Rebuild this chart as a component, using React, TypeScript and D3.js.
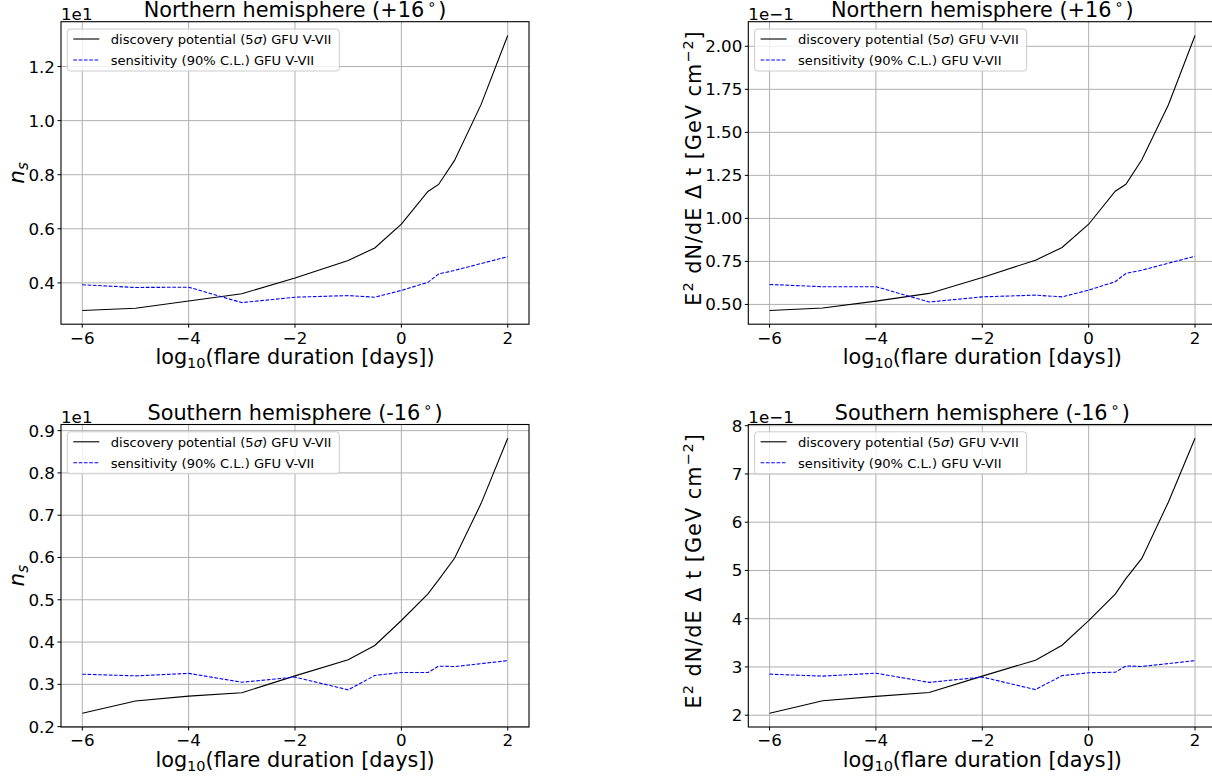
import React from 'react';
import * as d3 from 'd3';

// log10(flare duration [days]) sample points
const xDisc = [-6, -5, -4, -3, -2, -1, -0.5, 0, 0.5, 0.7, 1, 1.5, 2];
const xSens = [-6, -5, -4, -3, -2, -1, -0.5, 0, 0.5, 0.7, 1, 2];

// Northern hemisphere, n_s (x 1e1)
const nsNorthDisc = [0.298, 0.306, 0.333, 0.36, 0.418, 0.483, 0.529, 0.617, 0.738, 0.764, 0.853, 1.06, 1.315];
const nsNorthSens = [0.393, 0.383, 0.384, 0.327, 0.347, 0.353, 0.347, 0.372, 0.402, 0.433, 0.446, 0.497];

// Northern hemisphere, flux (x 1e-1)
const fluxNorthDisc = [0.465, 0.479, 0.519, 0.564, 0.657, 0.757, 0.831, 0.966, 1.158, 1.198, 1.341, 1.66, 2.063];
const fluxNorthSens = [0.616, 0.603, 0.603, 0.514, 0.544, 0.554, 0.544, 0.583, 0.632, 0.68, 0.699, 0.78];

// Southern hemisphere, n_s (x 1e1)
const nsSouthDisc = [0.2316, 0.2606, 0.272, 0.28, 0.32, 0.358, 0.392, 0.451, 0.514, 0.547, 0.598, 0.728, 0.882];
const nsSouthSens = [0.324, 0.32, 0.326, 0.305, 0.317, 0.287, 0.321, 0.328, 0.328, 0.343, 0.342, 0.356];

// Southern hemisphere, flux (x 1e-1)
const fluxSouthDisc = [2.04, 2.3, 2.39, 2.47, 2.81, 3.14, 3.45, 3.96, 4.51, 4.83, 5.25, 6.42, 7.74];
const fluxSouthSens = [2.85, 2.81, 2.87, 2.68, 2.79, 2.53, 2.82, 2.88, 2.89, 3.02, 3.01, 3.13];

const xTicks = [-6, -4, -2, 0, 2];
const yTicksNsNorth = [0.4, 0.6, 0.8, 1.0, 1.2];
const yTicksFluxNorth = [0.5, 0.75, 1.0, 1.25, 1.5, 1.75, 2.0];
const yTicksNsSouth = [0.2, 0.3, 0.4, 0.5, 0.6, 0.7, 0.8, 0.9];
const yTicksFluxSouth = [2, 3, 4, 5, 6, 7, 8];

const legendLabels = ['discovery potential (5', 'σ', ') GFU V-VII', 'sensitivity (90% C.L.) GFU V-VII'];
const titleNorth = 'Northern hemisphere (+16';
const titleSouth = 'Southern hemisphere (-16';
const xLabelParts = ['log', '10', '(flare duration [days])'];

const FONT = 'DejaVu Sans';
const GRID = '#b0b0b0';

const fmtNum = (v: number, dec: number) => {
  const s = v.toFixed(dec);
  return s.replace('-', '\u2212');
};

type PanelProps = {
  left: number;
  top: number;
  width: number;
  height: number;
  disc: number[];
  sens: number[];
  yTicks: number[];
  yDec: number;
  title: string;
  offset: string;
  kind: 'ns' | 'flux';
};

function Panel({ left, top, width, height, disc, sens, yTicks, yDec, title, offset, kind }: PanelProps) {
  const xAll = xDisc.concat(xSens);
  const [xmn, xmx] = d3.extent(xAll) as [number, number];
  const xpad = (xmx - xmn) * 0.05;
  const x = d3.scaleLinear().domain([xmn - xpad, xmx + xpad]).range([left, left + width]);
  const yAll = disc.concat(sens);
  const [ymn, ymx] = d3.extent(yAll) as [number, number];
  const ypad = (ymx - ymn) * 0.05;
  const y = d3.scaleLinear().domain([ymn - ypad, ymx + ypad]).range([top + height, top]);
  const line = d3.line<[number, number]>().x((d) => x(d[0])).y((d) => y(d[1]));
  const discPts = xDisc.map((v, i) => [v, disc[i]] as [number, number]);
  const sensPts = xSens.map((v, i) => [v, sens[i]] as [number, number]);
  const bottom = top + height;
  const right = left + width;
  const lx = left + 6.3;
  const ly = top + 7.3;
  const cy = top + height / 2;

  return (
    <g fontFamily={FONT}>
      {/* grid */}
      {xTicks.map((t) => (
        <line key={'gx' + t} x1={x(t)} x2={x(t)} y1={top} y2={bottom} stroke={GRID} strokeWidth={1} />
      ))}
      {yTicks.map((t) => (
        <line key={'gy' + t} x1={left} x2={right} y1={y(t)} y2={y(t)} stroke={GRID} strokeWidth={1} />
      ))}
      {/* data */}
      <path d={line(discPts) || ''} fill="none" stroke="#000" strokeWidth={1.1} />
      <path d={line(sensPts) || ''} fill="none" stroke="#0000ff" strokeWidth={1.1} strokeDasharray="3.7 1.6" />
      {/* spines */}
      <rect x={left} y={top} width={width} height={height} fill="none" stroke="#000" strokeWidth={1.1} />
      {/* x ticks */}
      {xTicks.map((t) => (
        <g key={'xt' + t}>
          <line x1={x(t)} x2={x(t)} y1={bottom} y2={bottom + 3.5} stroke="#000" strokeWidth={1} />
          <text x={x(t)} y={bottom + 19.3} fontSize={16.7} textAnchor="middle">{fmtNum(t, 0)}</text>
        </g>
      ))}
      {/* y ticks */}
      {yTicks.map((t) => (
        <g key={'yt' + t}>
          <line x1={left - 3.5} x2={left} y1={y(t)} y2={y(t)} stroke="#000" strokeWidth={1} />
          <text x={left - 6} y={y(t)} dy="0.36em" fontSize={16.7} textAnchor="end">{fmtNum(t, yDec)}</text>
        </g>
      ))}
      {/* offset text */}
      <text x={left} y={top - 2} fontSize={16.7}>{offset}</text>
      {/* title */}
      <text x={left + width / 2} y={top - 4.3} fontSize={20.8} textAnchor="middle">
        {title}
        <tspan fontSize={14.5} dx={3} dy={-8}>∘</tspan>
        <tspan dx={2} dy={8}>)</tspan>
      </text>
      {/* x label */}
      <text x={left + width / 2} y={bottom + 40} fontSize={20.8} textAnchor="middle">
        {xLabelParts[0]}
        <tspan fontSize={14.5} dy={4}>{xLabelParts[1]}</tspan>
        <tspan dy={-4}>{xLabelParts[2]}</tspan>
      </text>
      {/* y label */}
      {kind === 'ns' ? (
        <text transform={`translate(${left - 37},${cy}) rotate(-90)`} fontSize={21.5} textAnchor="middle" fontStyle="italic">
          n<tspan fontSize={15} dy={4}>s</tspan>
        </text>
      ) : (
        <text transform={`translate(${left - 47.5},${cy - 5}) rotate(-90)`} fontSize={20.8} textAnchor="middle" letterSpacing={1}>
          E<tspan fontSize={14.5} dy={-8}>2</tspan>
          <tspan dy={8}>{' dN/dE Δ t [GeV cm'}</tspan>
          <tspan fontSize={14.5} dy={-8}>−2</tspan>
          <tspan dy={8}>]</tspan>
        </text>
      )}
      {/* legend */}
      <rect x={lx} y={ly} width={272} height={42} rx={3} fill="#fff" fillOpacity={0.8} stroke="#cccccc" strokeWidth={1} />
      <line x1={lx + 6} x2={lx + 32} y1={ly + 10} y2={ly + 10} stroke="#000" strokeWidth={1.1} />
      <line x1={lx + 6} x2={lx + 32} y1={ly + 31} y2={ly + 31} stroke="#0000ff" strokeWidth={1.1} strokeDasharray="3.7 1.6" />
      <text x={lx + 43.4} y={ly + 10} dy="0.36em" fontSize={13.1}>
        {legendLabels[0]}
        <tspan fontStyle="italic">{legendLabels[1]}</tspan>
        {legendLabels[2]}
      </text>
      <text x={lx + 43.4} y={ly + 31} dy="0.36em" fontSize={13.1}>{legendLabels[3]}</text>
    </g>
  );
}

export default function App() {
  const W = 468;
  const H = 302.5;
  const L1 = 61;
  const L2 = 748.3;
  const T1 = 21.7;
  const T2 = 424.5;
  return (
    <svg width={1212} height={780} style={{ position: 'absolute', left: 0, top: 0, display: 'block', background: '#fff' }}>
      <rect x={0} y={0} width={1212} height={780} fill="#fff" />
      <Panel left={L1} top={T1} width={W} height={H} disc={nsNorthDisc} sens={nsNorthSens} yTicks={yTicksNsNorth} yDec={1} title={titleNorth} offset="1e1" kind="ns" />
      <Panel left={L2} top={T1} width={W} height={H} disc={fluxNorthDisc} sens={fluxNorthSens} yTicks={yTicksFluxNorth} yDec={2} title={titleNorth} offset={'1e\u22121'} kind="flux" />
      <Panel left={L1} top={T2} width={W} height={H} disc={nsSouthDisc} sens={nsSouthSens} yTicks={yTicksNsSouth} yDec={1} title={titleSouth} offset="1e1" kind="ns" />
      <Panel left={L2} top={T2} width={W} height={H} disc={fluxSouthDisc} sens={fluxSouthSens} yTicks={yTicksFluxSouth} yDec={0} title={titleSouth} offset={'1e\u22121'} kind="flux" />
    </svg>
  );
}
